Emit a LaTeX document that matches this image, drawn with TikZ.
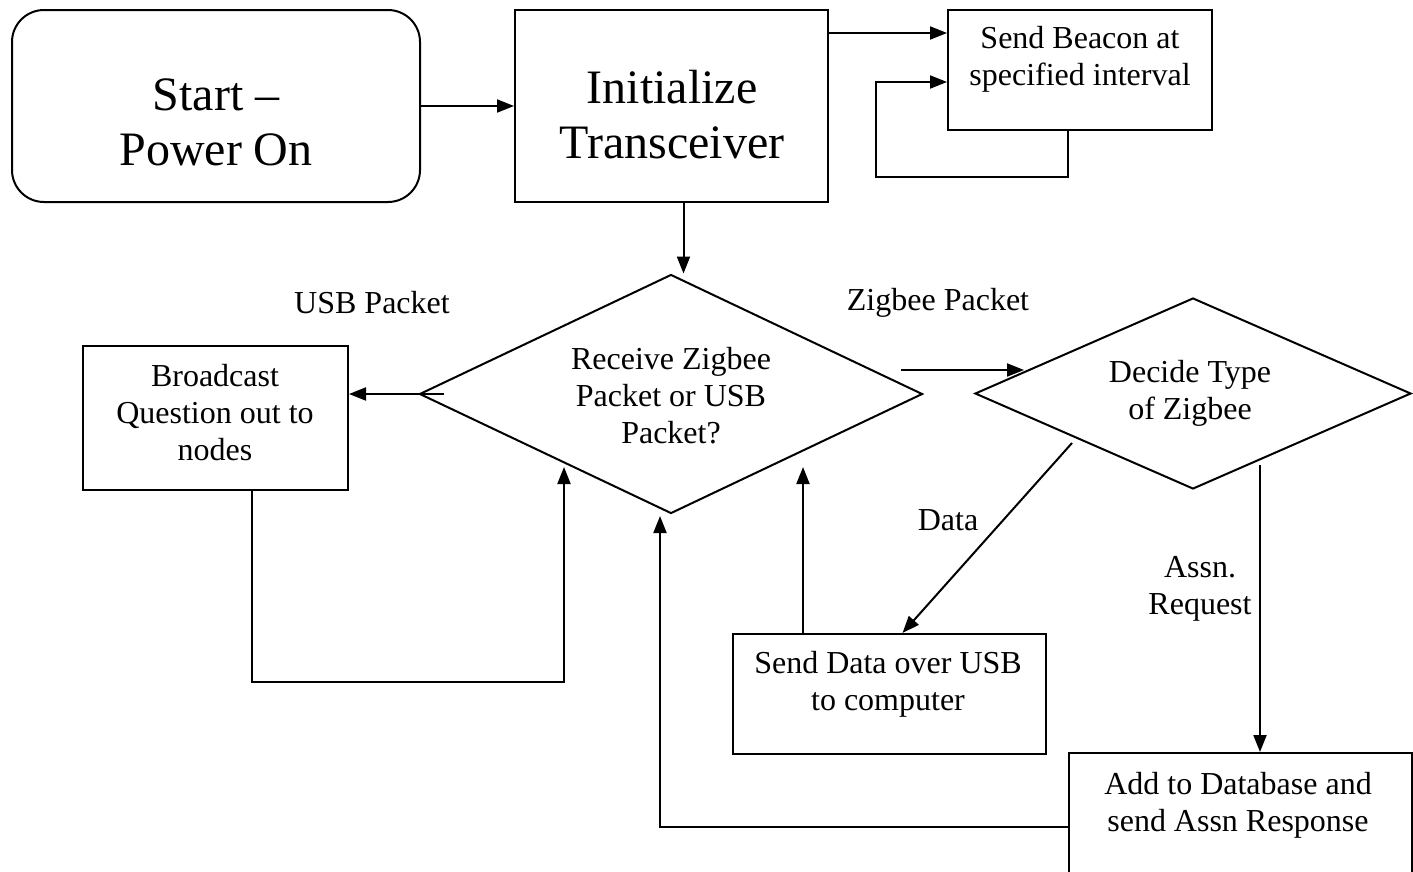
\documentclass[tikz,border=0pt]{standalone}
\usepackage{fontspec}
\setmainfont{Liberation Serif}
\usetikzlibrary{shapes.geometric,arrows.meta}

\tikzset{
  box/.style={draw, line width=2pt, inner sep=0pt},
  decision/.style={draw, shape=diamond, line width=2pt, inner sep=0pt},
  arr/.style={line width=2pt, -{Triangle[length=17pt,width=13pt]}},
  small/.style={align=center, font=\fontsize{32pt}{37pt}\selectfont, inner sep=0pt},
  big/.style={align=center, font=\fontsize{48pt}{55pt}\selectfont, inner sep=0pt},
}

\begin{document}
\begin{tikzpicture}[x=1pt, y=-1pt]
\useasboundingbox (0,0) rectangle (1413,871);
\clip (0,0) rectangle (1413,871);

% boxes
\node[box, rounded corners=32pt, minimum width=408pt, minimum height=192pt] (start) at (216,106) {};
\node[box, minimum width=313pt, minimum height=192pt] (init) at (671.5,106) {};
\node[box, minimum width=264pt, minimum height=120pt] (beacon) at (1080,70) {};
\node[box, minimum width=265pt, minimum height=144pt] (bc) at (215.5,418) {};
\node[box, minimum width=313pt, minimum height=120pt] (sd) at (889.5,694) {};
\node[box, minimum width=343pt, minimum height=147pt] (add) at (1240.5,826.5) {};
\node[decision, minimum width=503pt, minimum height=239pt] (d1) at (671,394) {};
\node[decision, minimum width=436pt, minimum height=191pt] (d2) at (1193,393.5) {};

% box texts
\node[big] (tstart) at (216,122) {Start –\\Power On};
\node[big] (tinit) at (672,115) {Initialize\\Transceiver};
\node[small] (tbeacon) at (1080,59) {Send Beacon at\\specified interval};
\node[small] (tbc) at (215,413) {Broadcast\\Question out to\\nodes};
\node[small] (td1) at (671,396) {Receive Zigbee\\Packet or USB\\Packet?};
\node[small] (td2) at (1190,393) {Decide Type\\of Zigbee};
\node[small] (tsd) at (888,684) {Send Data over USB\\to computer};
\node[small] (tadd) at (1238,805) {Add to Database and\\send Assn Response};

% connector labels
\node[small] (lusb) at (372,303) {USB Packet};
\node[small] (lzig) at (938,303) {Zigbee Packet};
\node[small] (ldata) at (948,520) {Data};
\node[small] (lassn) at (1200,589) {Assn.\\Request};

% free connector ends
\coordinate (bloop) at (876,177);
\coordinate (bccorner) at (564,682);
\coordinate (bctip) at (564,467);
\coordinate (sdtip) at (803,467);
\coordinate (addtip) at (660,516);
\coordinate (zs) at (901,370);
\coordinate (ze) at (1024,370);
\coordinate (ds) at (1072,443);
\coordinate (as) at (1260,465);

% connectors
\draw[arr] (start.east) -- (init.west);
\draw[arr] ([yshift=-24pt]init.north east) -- ([yshift=-24pt]init.north east -| beacon.west);
\draw[arr] ([xshift=-12pt]beacon.south) |- (bloop) |- ([yshift=-12pt]beacon.west);
\draw[arr] ([xshift=12pt]init.south) -- ([xshift=12pt]init.south |- d1.north);
\draw[arr] ([xshift=25pt]d1.west) -- (d1.west -| bc.east);
\draw[arr] ([xshift=36pt]bc.south) |- (bccorner) -- (bctip);
\draw[arr] (sd.north -| sdtip) -- (sdtip);
\draw[arr] (add.west) -| (addtip);
\draw[arr] (zs) -- (ze);
\draw[arr] (ds) -- ([xshift=13pt]sd.north);
\draw[arr] (as) -- (as |- add.north);

\end{tikzpicture}
\end{document}
